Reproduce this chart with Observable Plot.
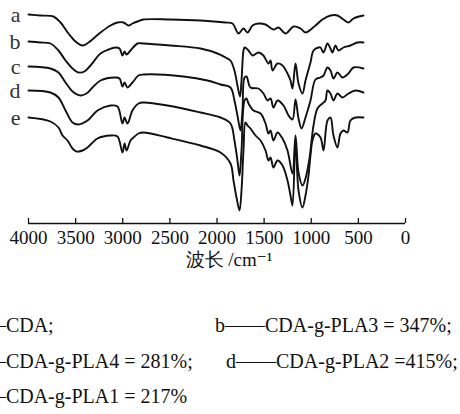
<!DOCTYPE html>
<html><head><meta charset="utf-8">
<script src="https://cdn.jsdelivr.net/npm/d3@7"></script>
<script src="https://cdn.jsdelivr.net/npm/@observablehq/plot@0.6"></script>
<style>
body{margin:0;background:#fff;width:460px;height:414px;overflow:hidden;position:relative;font-family:"Liberation Serif","Tinos","DejaVu Serif",serif;}
#chart{position:absolute;left:0;top:0;}
.leg{position:absolute;font-family:"Liberation Serif","Tinos","DejaVu Serif",serif;font-size:20px;line-height:20px;white-space:nowrap;color:#111;}
</style></head><body>
<div id="chart"></div>
<script>
// FTIR spectra: [wavenumber cm-1, transmittance (a.u., offset)]
const seriesNames = ["a", "b", "c", "d", "e"];
const specA = [[4000,209],[3873,208],[3735,207],[3660,201],[3576,190],[3501,182],[3427,178],[3363,181],[3236,191],[3130,198],[3056,201],[2992,201],[2939,198],[2897,200],[2843,202],[2780,204],[2493,204],[2175,203],[1910,201],[1836,200],[1772,190],[1719,195],[1676,191],[1623,198],[1560,200],[1485,199],[1401,194],[1347,196],[1273,190],[1188,197],[1114,195],[1061,191],[955,198],[881,204],[796,208],[722,208],[658,204],[605,201],[552,205],[446,208]];
const specB = [[4000,182],[3873,181],[3767,180],[3682,173],[3607,163],[3533,155],[3470,151],[3406,152],[3342,158],[3236,170],[3151,174],[3077,176],[3034,175],[3003,168],[2981,172],[2960,169],[2918,173],[2843,180],[2780,180],[2493,178],[2175,175],[1995,170],[1910,166],[1857,163],[1815,153],[1783,138],[1756,127],[1740,143],[1719,173],[1708,176],[1687,175],[1666,173],[1623,168],[1560,171],[1507,168],[1454,160],[1432,163],[1411,153],[1358,160],[1305,158],[1252,150],[1220,143],[1199,135],[1167,160],[1135,140],[1093,130],[1061,143],[1008,161],[976,173],[923,176],[902,176],[870,171],[828,180],[796,175],[775,171],[743,178],[711,173],[658,176],[584,178],[509,181],[446,181]];
const specC = [[4000,157],[3767,155],[3682,151],[3607,141],[3533,132],[3448,128],[3385,130],[3321,136],[3236,143],[3077,146],[3034,145],[3003,137],[2981,141],[2950,136],[2897,141],[2833,148],[2780,149],[2355,147],[2101,143],[1963,139],[1857,136],[1815,123],[1783,108],[1751,93],[1730,113],[1708,146],[1687,147],[1645,136],[1560,135],[1507,130],[1464,123],[1432,125],[1401,116],[1358,123],[1294,118],[1241,108],[1199,104],[1167,124],[1135,105],[1103,95],[1061,106],[1008,123],[955,144],[902,146],[870,148],[828,156],[796,153],[764,145],[722,151],[669,146],[605,150],[552,156],[446,155]];
const specD = [[4000,133],[3767,131],[3682,126],[3607,113],[3533,101],[3470,99],[3374,103],[3268,113],[3130,118],[3056,117],[3003,100],[2981,106],[2950,100],[2897,113],[2833,120],[2780,121],[2525,118],[2175,111],[1963,106],[1857,100],[1815,83],[1783,63],[1761,48],[1740,73],[1708,123],[1687,125],[1666,120],[1613,113],[1538,110],[1485,100],[1454,90],[1432,93],[1401,83],[1358,91],[1305,85],[1252,73],[1199,50],[1167,88],[1135,51],[1093,38],[1061,45],[1019,65],[976,98],[934,115],[881,120],[849,123],[828,133],[796,130],[764,123],[722,130],[669,126],[605,130],[530,133],[446,131]];
const specE = [[4000,106],[3767,102],[3682,96],[3639,88],[3586,83],[3533,75],[3491,72],[3427,73],[3374,76],[3268,85],[3130,88],[3056,87],[3003,71],[2981,80],[2960,73],[2918,83],[2886,86],[2833,90],[2780,91],[2525,86],[2175,78],[1963,71],[1857,60],[1825,43],[1793,26],[1761,13],[1740,33],[1719,73],[1698,101],[1676,98],[1645,95],[1591,88],[1538,83],[1485,73],[1454,63],[1432,66],[1401,56],[1358,63],[1305,58],[1252,43],[1220,28],[1199,18],[1167,83],[1135,33],[1093,16],[1061,28],[1029,48],[1008,68],[987,83],[955,90],[902,86],[870,73],[828,103],[796,106],[764,88],[722,76],[690,90],[658,93],[616,91],[584,103],[530,106],[446,106]];
const xTicks = [4000, 3500, 3000, 2500, 2000, 1500, 1000, 500, 0];
const xLabel = "波长 /cm⁻¹";
const legendRow1 = ["a——CDA;", "b——CDA-g-PLA3 = 347%;"];
const legendRow2 = ["c——CDA-g-PLA4 = 281%;", "d——CDA-g-PLA2 =415%;"];
const legendRow3 = ["e——CDA-g-PLA1 = 217%"];

const specs = [specA, specB, specC, specD, specE];
const rows = specs.flatMap((s, i) => s.map(([w, t]) => ({name: seriesNames[i], w, t})));
const starts = specs.map((s, i) => ({name: seriesNames[i], w: s[0][0], t: s[0][1]}));
const serif = "'Liberation Serif','Tinos','DejaVu Serif',serif";

const chart = Plot.plot({
  width: 460, height: 270,
  marginLeft: 28, marginRight: 55, marginTop: 0, marginBottom: 47,
  x: {domain: [4000, 0]},
  y: {domain: [0, 223], axis: null},
  style: {fontFamily: serif, fontSize: "19px", color: "#111", background: "#fff"},
  marks: [
    Plot.ruleY([0], {stroke: "#111", strokeWidth: 1.5}),
    Plot.axisX({ticks: xTicks, tickSize: -5, tickPadding: 12, tickFormat: d => String(d), label: null, fontSize: 19, fontFamily: serif, stroke: "#111", strokeWidth: 1.3}),
    Plot.line(rows, {x: "w", y: "t", z: "name", stroke: "#111", strokeWidth: 1.9, curve: "catmull-rom"}),
    Plot.text(starts, {x: "w", y: "t", text: "name", textAnchor: "end", dx: -8, fontSize: 22, fontFamily: serif, fill: "#333"}),
    Plot.text([xLabel], {frameAnchor: "bottom", lineAnchor: "middle", dy: 36, dx: 12, fontSize: 19, fontFamily: serif, fill: "#111"})
  ]
});
document.getElementById("chart").appendChild(chart);

const legendSpec = [
  [legendRow1, 315, [-43, 215]],
  [legendRow2, 351, [-43, 226]],
  [legendRow3, 386, [-43]]
];
for (const [items, top, lefts] of legendSpec) {
  items.forEach((txt, i) => {
    const el = document.createElement("div");
    el.className = "leg";
    el.style.top = top + "px";
    el.style.left = lefts[i] + "px";
    el.textContent = txt;
    document.body.appendChild(el);
  });
}
</script>
</body></html>
